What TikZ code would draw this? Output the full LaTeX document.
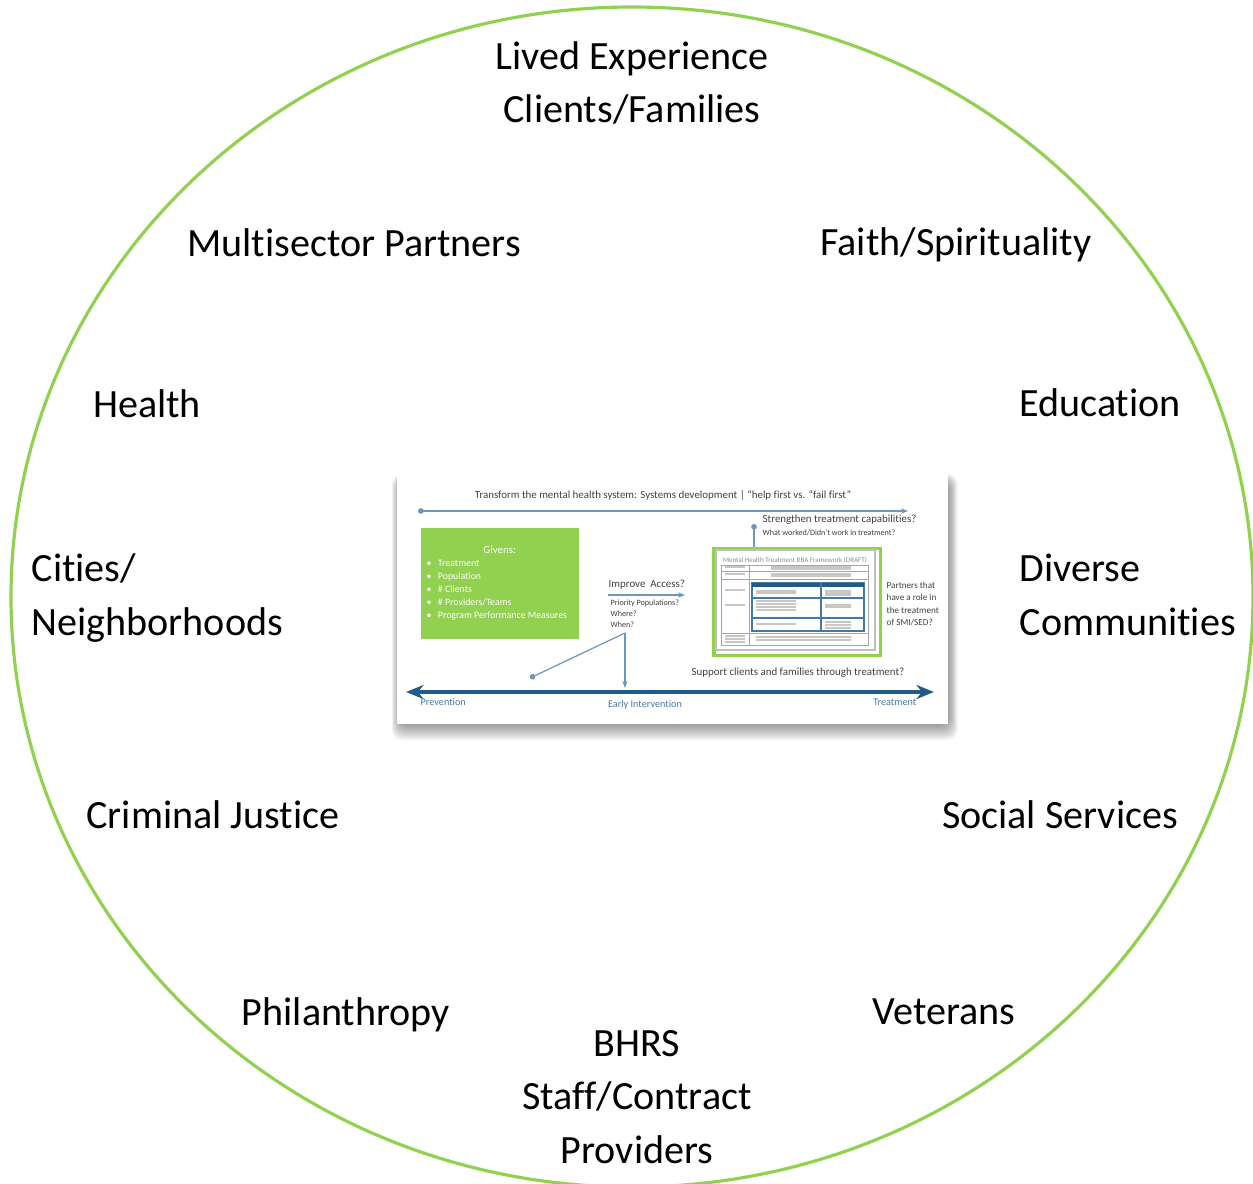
\documentclass[tikz,border=0pt]{standalone}
\usepackage{fontspec}
\setmainfont[Ligatures=NoCommon]{Carlito}
\usetikzlibrary{arrows.meta}
\definecolor{ringgreen}{RGB}{146,208,80}
\definecolor{flowblue}{RGB}{31,92,138}
\definecolor{linkblue}{RGB}{110,150,190}
\definecolor{tabblue}{RGB}{70,120,165}

\begin{document}
\begin{tikzpicture}[x=0.01cm,y=-0.01cm,
  every node/.style={font=\fontsize{11.4}{15.3}\selectfont,inner sep=0pt},
  tiny/.style={font=\fontsize{3.1}{3.8}\selectfont,text=black!75},
  tinier/.style={font=\fontsize{2.3}{3.1}\selectfont,text=black!75},
  flowtxt/.style={font=\fontsize{2.9}{3.6}\selectfont,text=tabblue},
  link/.style={linkblue,line width=0.35pt},
  scribble/.style={black!22,line width=0.3pt}]
  \useasboundingbox (0,0) rectangle (1253,1184);
  \draw[ringgreen,line width=0.9pt] (632,597) ellipse [x radius=621,y radius=590];
  % partners round the ring
  \node[align=center] (lived) at (632,83) {Lived Experience\\Clients/Families};
  \node (multisector) at (354,243) {Multisector Partners};
  \node (faith) at (956,245) {Faith/Spirituality};
  \node (health) at (147,404) {Health};
  \node (education) at (1100,403) {Education};
  \node[align=left,anchor=west] (cities) at (31,598) {Cities/\\Neighborhoods};
  \node[align=left,anchor=west] (diverse) at (1019,595) {Diverse\\Communities};
  \node (justice) at (213,815) {Criminal Justice};
  \node (social) at (1060,815) {Social Services};
  \node (philanthropy) at (346,1015) {Philanthropy};
  \node (veterans) at (944,1012) {Veterans};
  \node[align=center] (bhrs) at (637,1097) {BHRS\\Staff/Contract\\Providers};
  % framework slide in the middle
  \begin{scope}[shift={(397,472)}]
    \foreach \s in {2,4,...,16}
      \fill[black,opacity=.055,rounded corners=3pt] (3-\s*0.5,10-\s*0.5) rectangle (551+\s*0.6,252+\s);
    \fill[white] (0,0) rectangle (551,252);
    \node[tiny] (title) at (266,23) {Transform the mental health system: Systems development \textbar{} “help first vs. “fail first”};
    \coordinate (sysL) at (21,39);
    \coordinate (sysR) at (511,39);
    \draw[link,{Circle[length=1.6pt]}-{Stealth[length=2pt]}] (sysL) -- (sysR);
    \node[fill=ringgreen,minimum width=1.58cm,minimum height=1.11cm,anchor=north west] (givens) at (23,55) {};
    \node[tiny,text=white] (givenshead) at (givens.north |- 0,78) {Givens:};
    \node[tiny,text=white,align=left,anchor=north west,font=\fontsize{2.8}{3.7}\selectfont] (givenslist) at (29,87)
      {\textbullet\hspace{1.8pt}Treatment\\\textbullet\hspace{1.8pt}Population\\\textbullet\hspace{1.8pt}\# Clients\\\textbullet\hspace{1.8pt}\# Providers/Teams\\\textbullet\hspace{1.8pt}Program Performance Measures};
    \node[tiny,anchor=west] (access) at (211,113) {Improve\ \ Access?};
    \coordinate (accL) at (211,123);
    \coordinate (accR) at (288,123);
    \draw[link,-{Stealth[length=2pt]}] (accL) -- (accR);
    \node[tinier,anchor=north west,align=left] (where) at (213,127) {Priority Populations?\\Where?\\When?};
    \coordinate (fork) at (228,161);
    \coordinate (forkend) at (133,206);
    \coordinate (early) at (228,216);
    \draw[link,-{Stealth[length=2pt]}] (fork) -- (early);
    \draw[link,{Circle[length=1.6pt]}-] (forkend) -- (fork);
    \node[tiny,anchor=west] (strength) at (365,48) {Strengthen treatment capabilities?};
    \node[tinier,anchor=west] (worked) at (365,61) {What worked/Didn’t work in treatment?};
    \node[draw=ringgreen,line width=1.1pt,fill=white,minimum width=1.66cm,minimum height=1.07cm,anchor=north west] (frame) at (315.5,74.5) {};
    \coordinate (strTop) at (357,52);
    \draw[link,{Circle[length=1.6pt]}-] (strTop) -- (strTop |- frame.north);
    \begin{scope}[shift={(314,73)}]
      \draw[black!25,line width=0.4pt] (5,5) rectangle (164,105);
      \node[font=\fontsize{2}{2.4}\selectfont,text=black!45] (rbatitle) at (84,15) {Mental Health Treatment RBA Framework (DRAFT)};
      \draw[black!35,line width=0.25pt] (10,20) rectangle (157,100);
      \draw[black!35,line width=0.25pt] (38,20) -- (38,100) (10,26) -- (157,26) (10,34) -- (157,34) (10,88) -- (157,88);
      \draw[tabblue,line width=0.5pt] (41,38) rectangle (153,86);
      \fill[flowblue] (41,38) rectangle (153,42);
      \draw[tabblue,line width=0.4pt] (110,38) -- (110,86) (41,53) -- (153,53) (41,73) -- (153,73);
      \foreach \yy in {22,24,29,31} \draw[scribble] (60,\yy) -- (140,\yy);
      \foreach \yy in {22,29,45,60} \draw[scribble] (14,\yy) -- (34,\yy);
      \foreach \yy in {46,48,56,59,62,65,79} \draw[scribble] (45,\yy) -- (85,\yy);
      \foreach \yy in {46,48,50,60,62,77,80,83} \draw[scribble] (114,\yy) -- (140,\yy);
      \foreach \yy in {92,95} \draw[scribble] (45,\yy) -- (140,\yy);
      \foreach \yy in {91,94,97} \draw[scribble] (14,\yy) -- (34,\yy);
    \end{scope}
    \node[anchor=north west,align=left,text=black!75,font=\fontsize{2.6}{3.55}\selectfont] (partners) at (489,109) {Partners that\\have a role in\\the treatment\\of SMI/SED?};
    \node[tiny] (support) at (401,201) {Support clients and families through treatment?};
    \coordinate (prevEnd) at (9,220);
    \coordinate (treatEnd) at (537,220);
    \draw[flowblue,line width=1.1pt,{Stealth[length=5pt,width=4pt]}-{Stealth[length=5pt,width=4pt]}] (prevEnd) -- (treatEnd);
    \node[flowtxt,anchor=west] (prevention) at (23,230) {Prevention};
    \node[flowtxt] (earlyint) at (248,233) {Early Intervention};
    \node[flowtxt,anchor=east] (treatment) at (520,230) {Treatment};
  \end{scope}
\end{tikzpicture}
\end{document}
